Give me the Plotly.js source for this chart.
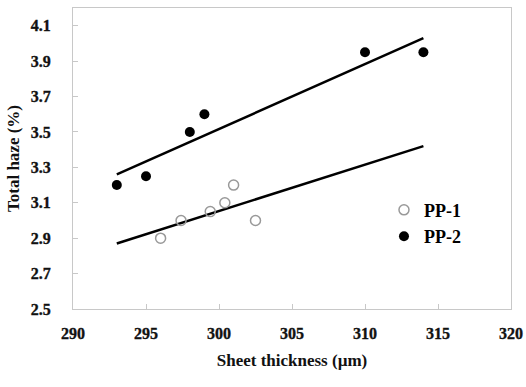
<!DOCTYPE html>
<html>
<head>
<meta charset="utf-8">
<script src="https://cdn.plot.ly/plotly-3.0.1.min.js"></script>
<style>
html,body{margin:0;padding:0;background:#fff;}#chart{width:526px;height:387px;}
#chart .xtick text, #chart .ytick text { font-weight: bold !important; stroke: #111; stroke-width: 0.35px; }
</style>
</head>
<body>
<div id="chart"></div>
<script>
// Data
const pp1X = [296, 297.4, 299.4, 300.4, 301, 302.5];
const pp1Y = [2.9, 3.0, 3.05, 3.1, 3.2, 3.0];
const pp2X = [293, 295, 298, 299, 310, 314];
const pp2Y = [3.2, 3.25, 3.5, 3.6, 3.95, 3.95];
const trendX = [293, 314];
const pp1Trend = [2.87, 3.42];
const pp2Trend = [3.26, 4.03];
const xTicks = [290, 295, 300, 305, 310, 315, 320];
const yTicks = [2.5, 2.7, 2.9, 3.1, 3.3, 3.5, 3.7, 3.9, 4.1];

const fam = 'Liberation Serif, Times New Roman, serif';

const traces = [
  {x: trendX, y: pp1Trend, mode: 'lines', line: {color: '#000', width: 2.5}, showlegend: false, hoverinfo: 'skip'},
  {x: trendX, y: pp2Trend, mode: 'lines', line: {color: '#000', width: 2.5}, showlegend: false, hoverinfo: 'skip'},
  {x: pp1X, y: pp1Y, mode: 'markers', name: 'PP-1',
   marker: {symbol: 'circle-open', size: 10, color: '#999', line: {width: 1.5, color: '#999'}}},
  {x: pp2X, y: pp2Y, mode: 'markers', name: 'PP-2',
   marker: {symbol: 'circle', size: 10, color: '#000'}}
];

const layout = {
  width: 526, height: 387,
  margin: {l: 73, r: 15, t: 8, b: 78},
  paper_bgcolor: '#fff', plot_bgcolor: '#fff',
  showlegend: true,
  legend: {x: 0.71, y: 0.39, xanchor: 'left', yanchor: 'top', bgcolor: 'rgba(0,0,0,0)',
           font: {family: fam, size: 18, color: '#000', weight: 'bold'}, itemwidth: 30, tracegroupgap: 0},
  xaxis: {
    range: [290, 320], tickvals: xTicks, ticktext: xTicks.map(String),
    showgrid: false, zeroline: false, showline: true, mirror: true, linecolor: '#c8c8c8', linewidth: 1,
    ticks: 'inside', ticklen: 5, tickcolor: '#c8c8c8',
    tickfont: {family: fam, size: 16, color: '#111', weight: 'bold'}, ticklabelstandoff: 10,
    title: {text: 'Sheet thickness (µm)', font: {family: fam, size: 17, color: '#111', weight: 'bold'}, standoff: 12}
  },
  yaxis: {
    range: [2.5, 4.2], tickvals: yTicks, ticktext: yTicks.map(v => v.toFixed(1)),
    showgrid: false, zeroline: false, showline: true, mirror: true, linecolor: '#c8c8c8', linewidth: 1,
    ticks: 'inside', ticklen: 5, tickcolor: '#c8c8c8',
    tickfont: {family: fam, size: 16, color: '#111', weight: 'bold'}, ticklabelstandoff: 18,
    title: {text: 'Total haze (%)', font: {family: fam, size: 17, color: '#111', weight: 'bold'}, standoff: 6}
  }
};

Plotly.newPlot('chart', traces, layout, {staticPlot: true, displayModeBar: false});
</script>
</body>
</html>
